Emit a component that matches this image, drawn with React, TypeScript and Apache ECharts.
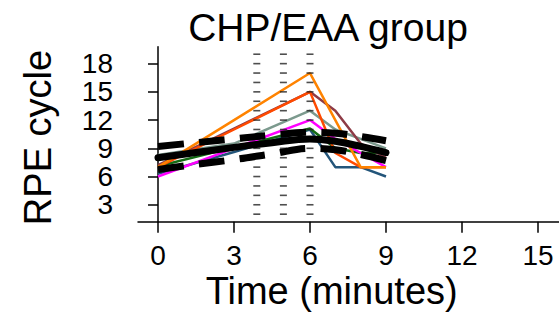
import React, { useEffect, useRef } from "react";
import * as echarts from "echarts";

const timePoints = [0, 3, 6, 7, 8, 9];
const orangeRPE = [7, 12, 17, 12, 7, 7];
const orangeRedRPE = [7, 11, 15, 8.5, 7, 7];
const brownRPE = [7.2, 11.1, 15, 13, 9.5, 8];
const grayRPE = [8.3, 9.5, 13, 11, 10, 9];
const magentaRPE = [6, 9, 12, 10, 8.5, 7];
const greenRPE = [7.1, 9.1, 11.1, 9, 8.5, 8.5];
const blueRPE = [6.3, 8.6, 11, 7, 7, 6];

const fitTime = [0, 1.5, 3, 4.5, 6, 7, 8, 9];
const fitMean = [8.0, 8.55, 9.1, 9.6, 10.0, 9.75, 9.2, 8.55];
const fitUpper = [9.2, 9.6, 10.0, 10.4, 10.7, 10.6, 10.25, 9.8];
const fitLower = [6.75, 7.3, 7.8, 8.4, 9.0, 8.85, 8.35, 7.7];

const markerTimes = [3.9, 4.95, 6];
const markerLevels = [2, 3, 4, 5, 6, 7, 8, 9, 10, 11, 12, 13, 14, 15, 16, 17, 18, 19];

const xTicks = [0, 3, 6, 9, 12, 15];
const yTicks = [3, 6, 9, 12, 15, 18];

const FONT = "Liberation Sans";

const subjects = [
  { name: "S1", values: blueRPE, color: "#23557A" },
  { name: "S2", values: greenRPE, color: "#146B14" },
  { name: "S3", values: magentaRPE, color: "#FF00FF" },
  { name: "S4", values: grayRPE, color: "#7C9A8E" },
  { name: "S5", values: brownRPE, color: "#8E3B46" },
  { name: "S6", values: orangeRedRPE, color: "#FF4A00" },
  { name: "S7", values: orangeRPE, color: "#FF8300" },
];

function pairs(xs: number[], ys: number[]) {
  return xs.map((x, i) => [x, ys[i]]);
}

export default function App() {
  const ref = useRef<HTMLDivElement>(null);
  useEffect(() => {
    if (!ref.current) return;
    const chart = echarts.init(ref.current, undefined, { renderer: "svg" });
    const markerData: number[][] = [];
    markerTimes.forEach((t) => markerLevels.forEach((l) => markerData.push([t, l])));
    const series: any[] = [];
    subjects.forEach((s) => {
      series.push({
        type: "line",
        name: s.name,
        data: pairs(timePoints, s.values),
        showSymbol: false,
        symbol: "none",
        lineStyle: { color: s.color, width: 2.5 },
        z: 2,
      });
    });
    series.push({
      type: "scatter",
      data: markerData,
      symbol: "rect",
      symbolSize: [7, 1.6],
      itemStyle: { color: "#222" },
      z: 3,
    });
    series.push({
      type: "line",
      data: pairs(fitTime, fitMean),
      symbol: "none",
      smooth: 0.4,
      lineStyle: { color: "#000", width: 7, cap: "round", join: "round" },
      z: 4,
    });
    [fitUpper, fitLower].forEach((arr) => {
      series.push({
        type: "line",
        data: pairs(fitTime, arr),
        symbol: "none",
        smooth: 0.4,
        lineStyle: { color: "#000", width: 7, type: [26, 15], cap: "butt" },
        z: 4,
      });
    });
    chart.setOption({
      animation: false,
      grid: { left: 138, right: 0, top: 46.7, bottom: 320 - 221.7, containLabel: false },
      xAxis: {
        type: "value",
        min: -0.79,
        max: 15.83,
        axisLine: { show: true, lineStyle: { color: "#000", width: 1.5 } },
        axisTick: { show: true, customValues: xTicks, length: 11, lineStyle: { color: "#000", width: 1.5 } },
        axisLabel: {
          customValues: xTicks,
          margin: 23,
          fontSize: 28,
          lineHeight: 22,
          color: "#000",
          fontFamily: FONT,
        },
        splitLine: { show: false },
      },
      yAxis: {
        type: "value",
        min: 1.2,
        max: 19.8,
        axisLine: { show: true, lineStyle: { color: "#000", width: 1.5 } },
        axisTick: { show: true, customValues: yTicks, length: 10, lineStyle: { color: "#000", width: 1.5 } },
        axisLabel: {
          customValues: yTicks,
          margin: 25,
          fontSize: 28,
          color: "#000",
          fontFamily: FONT,
          padding: [10, 0, 0, 0],
        },
        splitLine: { show: false },
      },
      graphic: [
        {
          type: "text",
          x: 328,
          y: 27,
          style: { text: "CHP/EAA group", font: `39px '${FONT}'`, fill: "#000", textAlign: "center", textVerticalAlign: "middle" },
        },
        {
          type: "text",
          x: 331.7,
          y: 291,
          style: {
            text: "Time (minutes)",
            font: `38px '${FONT}'`,
            lineHeight: 28,
            fill: "#000",
            textAlign: "center",
            textVerticalAlign: "middle",
          },
        },
        {
          type: "text",
          x: 38,
          y: 137.5,
          rotation: Math.PI / 2,
          style: { text: "RPE cycle", font: `38px '${FONT}'`, fill: "#000", textAlign: "center", textVerticalAlign: "middle" },
        },
      ],
      series,
    });
    return () => chart.dispose();
  }, []);
  return (
    <div
      ref={ref}
      style={{ position: "absolute", left: 0, top: 0, width: 559, height: 320, background: "#fff" }}
    />
  );
}
